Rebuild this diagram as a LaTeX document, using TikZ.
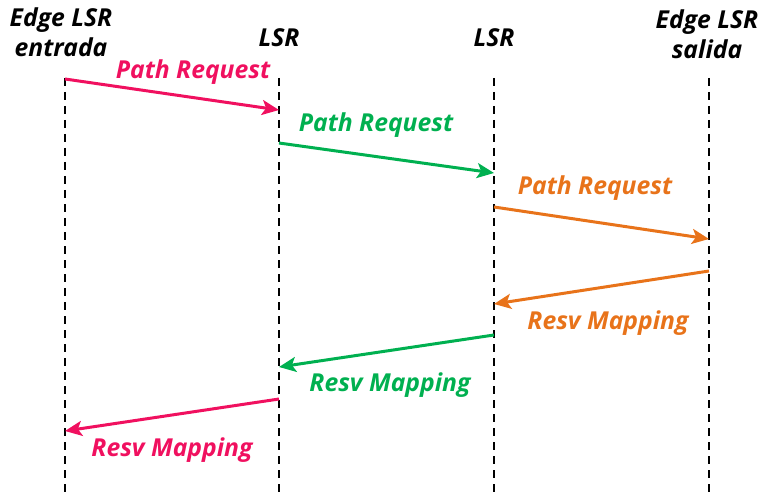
\documentclass[tikz,border=0pt]{standalone}
\usepackage{fontspec}
\setmainfont{Open Sans}
\usetikzlibrary{arrows.meta}
\definecolor{cpink}{HTML}{F0105F}
\definecolor{cgreen}{HTML}{00B050}
\definecolor{corange}{HTML}{E8731A}
\begin{document}
\begin{tikzpicture}[x=1bp,y=-1bp,
  every node/.style={font=\fontsize{24.8}{30}\selectfont\bfseries\itshape},
  lifeline/.style={black,line width=1.7bp,dash pattern=on 8bp off 6bp},
  msg/.style={line width=3bp,-{Stealth[length=17bp,width=15bp,inset=4bp]}},
  head/.style={align=center,text=black},
  lbl/.style={inner sep=0pt}]
\useasboundingbox (0,0) rectangle (768,492);
% lifelines
\foreach \n/\x in {a/65,b/279,c/494,d/709}{
  \coordinate (\n top) at (\x,78);
  \coordinate (\n bot) at (\x,492);
  \draw[lifeline] (\n top) -- (\n bot);
}
% headers
\node[head] (ha) at (61,32) {Edge LSR\\entrada};
\node[head] (hb) at (279,38) {LSR};
\node[head] (hc) at (494,38) {LSR};
\node[head] (hd) at (707,34) {Edge LSR\\salida};
% message end points
\coordinate (p1s) at (65,79);   \coordinate (p1e) at (279,110);
\coordinate (p2s) at (279,143); \coordinate (p2e) at (494,173);
\coordinate (p3s) at (494,207); \coordinate (p3e) at (709,239);
\coordinate (p4s) at (709,271); \coordinate (p4e) at (494,304);
\coordinate (p5s) at (494,335); \coordinate (p5e) at (279,367);
\coordinate (p6s) at (279,399); \coordinate (p6e) at (65,431);
% messages
\draw[msg,cpink]   (p1s) -- (p1e);
\draw[msg,cgreen]  (p2s) -- (p2e);
\draw[msg,corange] (p3s) -- (p3e);
\draw[msg,corange] (p4s) -- (p4e);
\draw[msg,cgreen]  (p5s) -- (p5e);
\draw[msg,cpink]   (p6s) -- (p6e);
% labels
\node[lbl,text=cpink]   (l1) at (193,72)  {Path Request};
\node[lbl,text=cgreen]  (l2) at (376,125) {Path Request};
\node[lbl,text=corange] (l3) at (595,188) {Path Request};
\node[lbl,text=corange] (l4) at (608,323) {Resv Mapping};
\node[lbl,text=cgreen]  (l5) at (390,385) {Resv Mapping};
\node[lbl,text=cpink]   (l6) at (172,450) {Resv Mapping};
\end{tikzpicture}
\end{document}
